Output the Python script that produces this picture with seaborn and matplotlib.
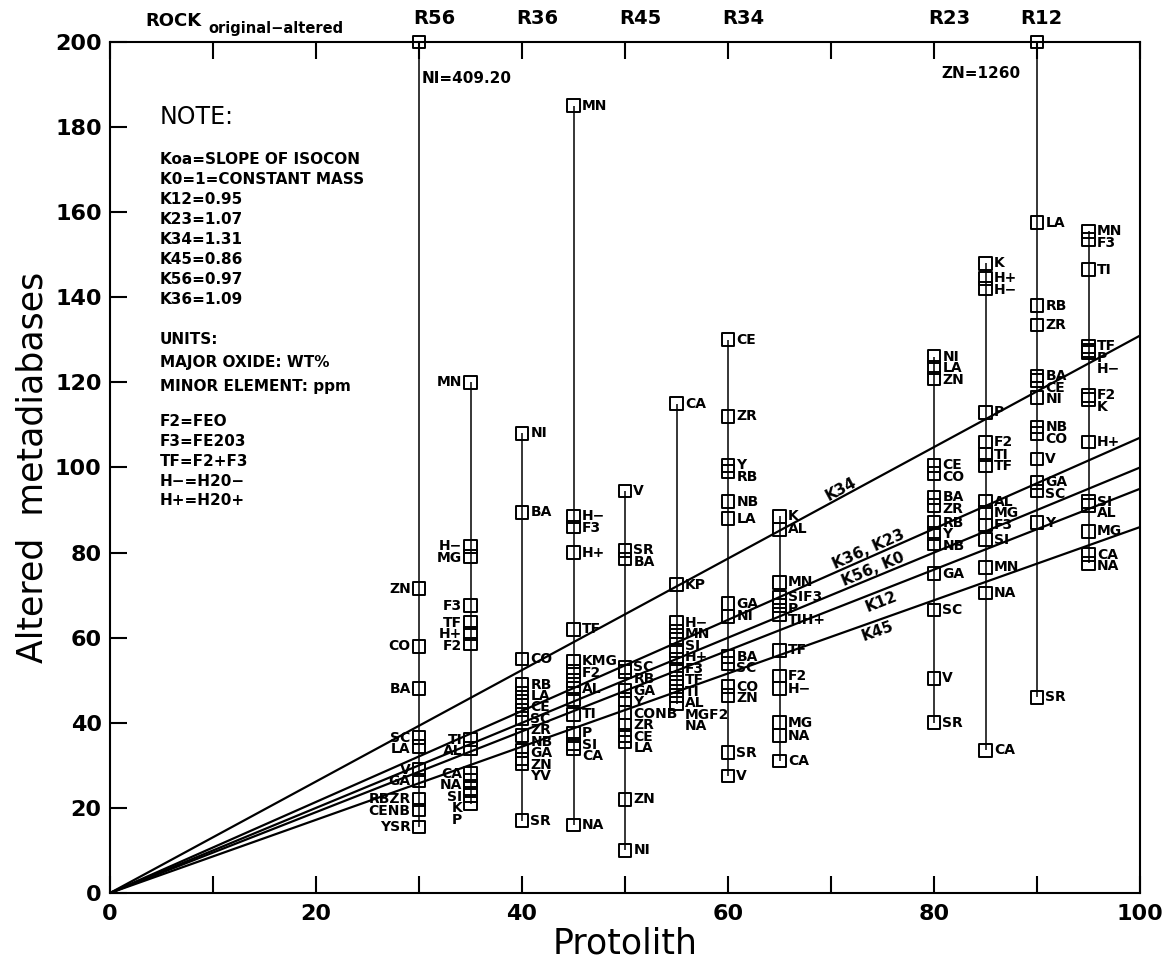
import numpy as np
import pandas as pd
import matplotlib
matplotlib.use("Agg")
import matplotlib.pyplot as plt
import seaborn as sns


# protolith columns and element values (altered)
el_30 = ["", "ZN", "CO", "BA", "SC", "LA", "V", "GA", "RBZR", "CENB", "YSR"]
val_30 = [200, 71.5, 58, 48, 36.5, 34.5, 29, 26.5, 22, 19.5, 15.5]

el_35 = ["MN", "H−", "MG", "F3", "TF", "H+", "F2", "TI", "AL", "CA", "NA", "SI", "K", "P"]
val_35 = [120, 81.5, 79, 67.5, 63.5, 61, 58.5, 36, 34, 28, 26.5, 24.5, 23, 21]

el_40 = ["NI", "BA", "CO", "RB", "LA", "CE", "SC", "ZR", "NB", "GA", "ZN", "YV", "SR"]
val_40 = [108, 89.5, 55, 49, 47, 45, 43, 41, 37, 33.5, 31.5, 30.5, 17]

el_45 = ["MN", "H−", "F3", "H+", "TF", "KMG", "F2", "", "AL", "", "TI", "P", "SI", "CA", "NA"]
val_45 = [185, 88.5, 86, 80, 62, 54.5, 52, 50, 48, 45.5, 42, 37.5, 35, 34, 16]

el_50 = ["V", "SR", "BA", "SC", "RB", "GA", "Y", "CONB", "ZR", "CE", "LA", "ZN", "NI"]
val_50 = [94.5, 80.5, 78.5, 53, 52, 47.5, 45.5, 42.5, 39.5, 37, 35.5, 22, 10]

el_55 = ["CA", "KP", "H−", "MN", "SI", "H+", "F3", "TF", "TI", "AL", "MGF2", "NA"]
val_55 = [115, 72.5, 63.5, 61.5, 59.5, 57, 55, 52.5, 50.5, 48.5, 46.5, 44.5]

el_60 = ["CE", "ZR", "Y", "RB", "NB", "LA", "GA", "NI", "BA", "SC", "CO", "ZN", "SR", "V"]
val_60 = [130, 112, 100.5, 99, 92, 88, 68, 65, 55.5, 54, 48.5, 46.5, 33, 27.5]

el_65 = ["K", "AL", "MN", "SIF3", "P", "TIH+", "TF", "F2", "H−", "MG", "NA", "CA"]
val_65 = [88.5, 85.5, 73, 69.5, 67.5, 65.5, 57, 51, 48, 40, 37, 31]

el_80 = ["NI", "LA", "ZN", "CE", "CO", "BA", "ZR", "RB", "Y", "NB", "GA", "SC", "V", "SR"]
val_80 = [126, 123.5, 121, 100.5, 98.5, 93, 91, 87, 84.5, 82, 75, 66.5, 50.5, 40]

el_85 = ["K", "H+", "H−", "P", "F2", "TI", "TF", "AL", "MG", "F3", "SI", "MN", "NA", "CA"]
val_85 = [148, 144.5, 142, 113, 106, 103, 100.5, 92, 89.5, 86.5, 83, 76.5, 70.5, 33.5]

el_90 = ["", "LA", "RB", "ZR", "BA", "CE", "NI", "NB", "CO", "V", "GA", "SC", "Y", "SR"]
val_90 = [200, 157.5, 138, 133.5, 121.5, 120.5, 116.5, 109.5, 108, 102, 96.5, 94.5, 87, 46]

el_95 = ["MN", "F3", "TI", "TF", "P", "H−", "F2", "K", "H+", "SI", "AL", "MG", "CA", "NA"]
val_95 = [155.5, 153.5, 146.5, 128.5, 127.5, 127, 117, 116, 106, 92, 91, 85, 79.5, 77.5]

col_x = [30, 35, 40, 45, 50, 55, 60, 65, 80, 85, 90, 95]
col_el = [el_30, el_35, el_40, el_45, el_50, el_55, el_60, el_65, el_80, el_85, el_90, el_95]
col_val = [val_30, val_35, val_40, val_45, val_50, val_55, val_60, val_65, val_80, val_85, val_90, val_95]
left_label_cols = [30, 35]

# isocons
iso_names = ["K34", "K36, K23", "K56, K0", "K12", "K45"]
iso_slopes = [1.31, 1.07, 1.0, 0.95, 0.86]
iso_label_x = [71.2, 73.8, 74.3, 74.6, 74.3]
iso_label_above = [True, True, True, False, False]

# rock pair names on top axis
rock_names = ["R56", "R36", "R45", "R34", "R23", "R12"]
rock_x = [30, 40, 50, 60, 80, 89]

note_lines = ["Koa=SLOPE OF ISOCON", "K0=1=CONSTANT MASS", "K12=0.95", "K23=1.07",
              "K34=1.31", "K45=0.86", "K56=0.97", "K36=1.09"]
units_lines = ["UNITS:", "MAJOR OXIDE: WT%", "MINOR ELEMENT: ppm"]
abbr_lines = ["F2=FEO", "F3=FE203", "TF=F2+F3", "H−=H20−", "H+=H20+"]


rows = []
for x, els, vals in zip(col_x, col_el, col_val):
    for e, v in zip(els, vals):
        rows.append({"protolith": x, "element": e, "altered": v})
df = pd.DataFrame(rows)

iso_rows = []
for name, k in zip(iso_names, iso_slopes):
    for x in [0, 100]:
        iso_rows.append({"name": name, "x": x, "y": k * x})
iso_df = pd.DataFrame(iso_rows)

sns.set_style("ticks")
plt.rcParams["font.family"] = ["DejaVu Sans"]
for key in ["text.color", "axes.labelcolor", "xtick.color", "ytick.color", "axes.edgecolor"]:
    plt.rcParams[key] = "black"

fig = plt.figure(figsize=(11.73, 9.76), dpi=100)
ax = fig.add_axes([110 / 1173, 83 / 976, 1030 / 1173, 851 / 976])

sns.lineplot(data=iso_df, x="x", y="y", units="name", estimator=None,
             color="black", linewidth=1.6, ax=ax)

span = df.groupby("protolith")["altered"].agg(["min", "max"])
ax.vlines(span.index, span["min"], span["max"], color="black", linewidth=1.1)

sns.scatterplot(data=df, x="protolith", y="altered", marker="s", s=85,
                color="black", facecolor="none", edgecolor="black",
                linewidth=1.4, clip_on=False, zorder=3, ax=ax)

ax.set_xlim(0, 100)
ax.set_ylim(0, 200)
ax.set_xticks(range(0, 101, 20))
ax.set_xticks(range(10, 100, 20), minor=True)
ax.set_yticks(range(0, 201, 20))
ax.tick_params(axis="x", which="both", direction="in", length=12, width=1.5,
               top=True, labelsize=16, pad=8)
ax.tick_params(axis="y", direction="in", length=12, width=1.5, labelsize=16, pad=6)
for lbl in ax.get_xticklabels() + ax.get_yticklabels():
    lbl.set_fontweight("bold")
for sp in ax.spines.values():
    sp.set_linewidth(1.5)
    sp.set_visible(True)

ax.set_xlabel("Protolith", fontsize=25, labelpad=2)
ax.set_ylabel("Altered  metadiabases", fontsize=25, labelpad=4)

# element labels, pushed down when they would overlap
gap = 2.7
for x, els, vals in zip(col_x, col_el, col_val):
    left = x in left_label_cols
    prev = None
    for i in np.argsort(vals, kind="stable")[::-1]:
        if not els[i]:
            continue
        ty = vals[i] if prev is None else min(vals[i], prev - gap)
        prev = ty
        ax.annotate(els[i], xy=(x, ty), xytext=(-6 if left else 6, 0),
                    textcoords="offset points", ha="right" if left else "left",
                    va="center", fontsize=10, fontweight="bold")

ax.text(30.3, 191.5, "NI=409.20", fontsize=11, fontweight="bold", va="center")
ax.text(88.4, 192.5, "ZN=1260", fontsize=11, fontweight="bold", va="center", ha="right")

# isocon names along the lines
for name, k, xc, above in zip(iso_names, iso_slopes, iso_label_x, iso_label_above):
    ang = ax.transData.transform_angles(np.array([np.degrees(np.arctan(k))]),
                                        np.array([[xc, k * xc]]))[0]
    ax.annotate(name, xy=(xc, k * xc), xytext=(0, 2.5 if above else -2.5),
                textcoords="offset points", rotation=ang, rotation_mode="anchor",
                ha="center", va="baseline" if above else "top",
                fontsize=11, fontweight="bold")

# top labels
trans = ax.get_xaxis_transform()
for name, x in zip(rock_names, rock_x):
    ax.text(x - 0.6, 1.028, name, transform=trans, fontsize=14, fontweight="bold",
            ha="left", va="center")
fig.text(145 / 1173, 1 - 21 / 976, "ROCK", fontsize=13, fontweight="bold", va="center")
fig.text(208 / 1173, 1 - 28 / 976, "original−altered", fontsize=10.5,
         fontweight="bold", va="center")

# note block
fig.text(160 / 1173, 1 - 117 / 976, "NOTE:", fontsize=17, va="center")
for i, line in enumerate(note_lines):
    fig.text(160 / 1173, 1 - (160 + 20 * i) / 976, line, fontsize=11,
             fontweight="bold", va="center")
for i, line in enumerate(units_lines):
    fig.text(160 / 1173, 1 - (340 + 23 * i) / 976, line, fontsize=11,
             fontweight="bold", va="center")
for i, line in enumerate(abbr_lines):
    fig.text(160 / 1173, 1 - (421 + 20 * i) / 976, line, fontsize=11,
             fontweight="bold", va="center")

fig.savefig("out.png", dpi=100)
